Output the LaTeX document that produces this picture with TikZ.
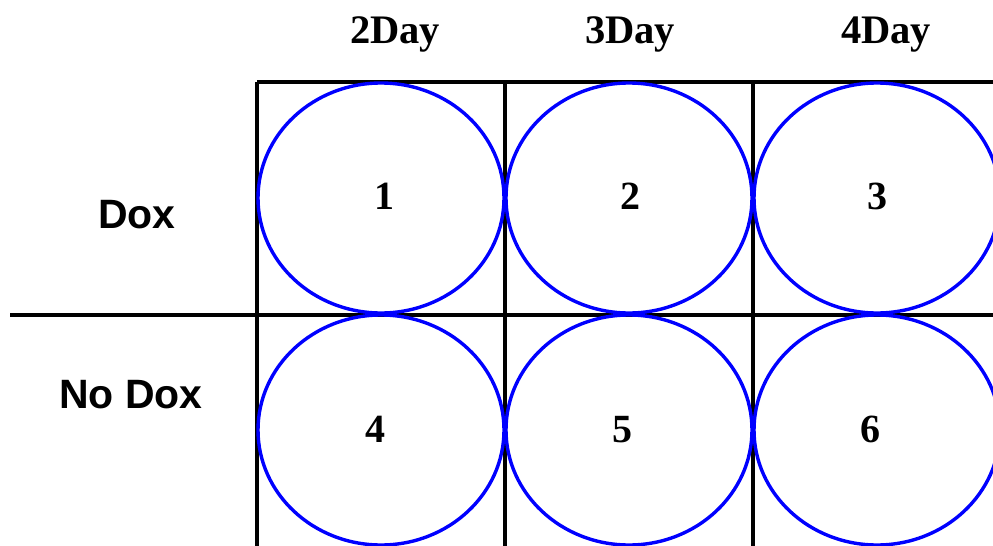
\documentclass[tikz,border=0pt]{standalone}
\usepackage{fontspec}
\setmainfont{Liberation Serif}
\newfontfamily\labelfont{Liberation Sans}
\usetikzlibrary{shapes.geometric}
\begin{document}
\begin{tikzpicture}[x=1pt,y=-1pt,
  gridline/.style={line width=3.4pt,black},
  well/.style={draw=blue,line width=3.4pt,ellipse,minimum width=246pt,minimum height=230pt,inner sep=0pt},
  wellnum/.style={anchor=base,font=\fontsize{40}{40}\selectfont\bfseries,inner sep=0pt},
  colhead/.style={anchor=base,font=\fontsize{40.5}{40}\selectfont\bfseries,inner sep=0pt},
  rowhead/.style={anchor=base,font=\labelfont\fontsize{41}{41}\selectfont\bfseries,inner sep=0pt}]
\useasboundingbox (0,0) rectangle (993,546);
\begin{scope}
\clip (0,0) rectangle (993,546);
% grid
\coordinate (tl) at (257,82);
\coordinate (tr) at (993,82);
\coordinate (ml) at (10,315);
\coordinate (mr) at (993,315);
\coordinate (v1t) at (257,82);  \coordinate (v1b) at (257,546);
\coordinate (v2t) at (505,82);  \coordinate (v2b) at (505,546);
\coordinate (v3t) at (753,82);  \coordinate (v3b) at (753,546);
\draw[gridline] (tl) -- (tr);
\draw[gridline] (ml) -- (mr);
\draw[gridline] (v1t) -- (v1b);
\draw[gridline] (v2t) -- (v2b);
\draw[gridline] (v3t) -- (v3b);
% wells
\node[well] (w1) at (381,198) {};
\node[well] (w2) at (629,198) {};
\node[well] (w3) at (877,198) {};
\node[well] (w4) at (381,430) {};
\node[well] (w5) at (629,430) {};
\node[well] (w6) at (877,430) {};
\end{scope}
% numbers
\node[wellnum] (n1) at (384,209) {1};
\node[wellnum] (n2) at (630,209) {2};
\node[wellnum] (n3) at (877,209) {3};
\node[wellnum] (n4) at (375,442) {4};
\node[wellnum] (n5) at (622,442) {5};
\node[wellnum] (n6) at (870,442) {6};
% headers
\node[colhead] (h2) at (395,43) {2Day};
\node[colhead] (h3) at (630,43) {3Day};
\node[colhead] (h4) at (886,43) {4Day};
\node[rowhead] (r1) at (137,228) {Dox};
\node[rowhead] (r2) at (131,408) {No Dox};
\end{tikzpicture}
\end{document}
